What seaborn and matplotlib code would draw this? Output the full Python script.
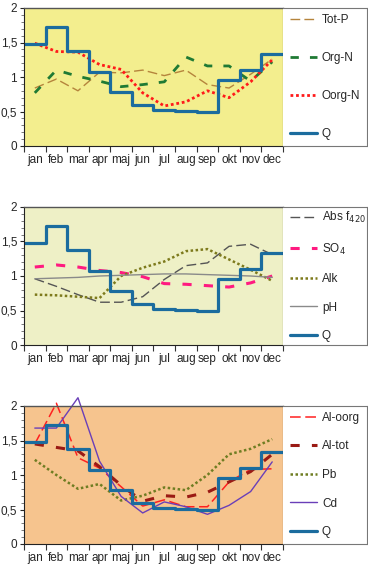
import numpy as np
import pandas as pd
import matplotlib
matplotlib.use('Agg')
import matplotlib.pyplot as plt
from matplotlib.lines import Line2D
from matplotlib.ticker import MultipleLocator, FixedLocator, FuncFormatter
import seaborn as sns

# months and discharge (step line, same in every panel)
months = ['jan', 'feb', 'mar', 'apr', 'maj', 'jun', 'jul', 'aug', 'sep', 'okt', 'nov', 'dec']
q_vals = [1.48, 1.73, 1.38, 1.07, 0.78, 0.59, 0.52, 0.51, 0.49, 0.95, 1.10, 1.34]

# panel 1
tot_p = [0.84, 0.97, 0.80, 1.07, 1.06, 1.10, 1.02, 1.10, 0.89, 0.84, 1.04, 1.26]
org_n = [0.77, 1.10, 1.01, 0.94, 0.86, 0.89, 0.93, 1.29, 1.16, 1.16, 0.94, 1.22]
oorg_n = [1.49, 1.37, 1.36, 1.18, 1.11, 0.77, 0.58, 0.64, 0.80, 0.70, 0.93, 1.25]

# panel 2
abs_f420 = [0.96, 0.85, 0.73, 0.62, 0.62, 0.70, 0.95, 1.15, 1.19, 1.43, 1.46, 1.31]
so4 = [1.13, 1.16, 1.13, 1.08, 1.05, 0.99, 0.89, 0.88, 0.86, 0.84, 0.90, 1.00]
alk = [0.73, 0.72, 0.70, 0.68, 1.00, 1.12, 1.21, 1.36, 1.39, 1.24, 1.09, 0.93]
ph = [0.96, 0.97, 0.98, 1.00, 1.01, 1.02, 1.03, 1.03, 1.02, 1.01, 1.00, 0.98]

# panel 3
al_oorg = [1.45, 2.04, 1.25, 1.10, 0.83, 0.55, 0.64, 0.54, 0.54, 0.90, 1.08, 1.09]
al_tot = [1.45, 1.40, 1.35, 1.12, 0.85, 0.62, 0.70, 0.68, 0.75, 0.90, 1.05, 1.30]
pb = [1.22, 1.00, 0.80, 0.87, 0.63, 0.70, 0.82, 0.78, 1.00, 1.30, 1.38, 1.52]
cd = [1.68, 1.68, 2.12, 1.20, 0.69, 0.45, 0.61, 0.54, 0.43, 0.56, 0.76, 1.19]

sns.set_style('ticks')
plt.rcParams['font.family'] = ['Liberation Sans', 'DejaVu Sans']

W, H = 368, 565
fig = plt.figure(figsize=(W / 100, H / 100), dpi=100)

centers = np.arange(12) + 0.5
edges = np.arange(13)

panels = [
    # (top px, background, series list)
    (8, '#f3ee8e', [
        ('Tot-P', tot_p, '#b5843c', (0, (7, 3)), 1.0),
        ('Org-N', org_n, '#1f7a34', (0, (3, 4)), 2.0),
        ('Oorg-N', oorg_n, '#ff1a1a', (0, (1, 1)), 2.0),
    ]),
    (207, '#eef0c6', [
        ('Abs f$_{420}$', abs_f420, '#555555', (0, (7, 3)), 1.0),
        ('SO$_4$', so4, '#ff1a80', (0, (3, 4)), 2.2),
        ('Alk', alk, '#7d7a1c', (0, (1, 1)), 1.8),
        ('pH', ph, '#8a8a8a', '-', 1.0),
    ]),
    (406, '#f6c48e', [
        ('Al-oorg', al_oorg, '#ff2020', (0, (7, 3)), 1.1),
        ('Al-tot', al_tot, '#9a1a14', (0, (3, 4)), 2.2),
        ('Pb', pb, '#6f7d22', (0, (1, 1)), 1.8),
        ('Cd', cd, '#6a3fb8', '-', 1.0),
    ]),
]

q_color = '#1b6c9e'
h_px = 138
for top, bg, series in panels:
    bottom = 1 - (top + h_px) / H
    ax = fig.add_axes([24 / W, bottom, (283 - 24) / W, h_px / H])
    ax.set_facecolor(bg)

    handles = []
    for name, vals, col, ls, lw in series:
        sns.lineplot(x=centers, y=vals, ax=ax, color=col, linestyle=ls,
                     lw=lw, clip_on=False)
        handles.append(Line2D([], [], color=col, linestyle=ls, lw=lw))

    sns.lineplot(x=edges, y=q_vals + [q_vals[-1]], ax=ax, color=q_color,
                 lw=2.3, drawstyle='steps-post')
    handles.append(Line2D([], [], color=q_color, lw=2.3))
    labels = [s[0] for s in series] + ['Q']

    ax.set_xlim(0, 12)
    ax.set_ylim(0, 2)
    ax.set_xlabel('')
    ax.set_ylabel('')
    ax.xaxis.set_major_locator(FixedLocator(edges))
    ax.xaxis.set_minor_locator(FixedLocator(centers))
    ax.set_xticklabels([], minor=False)
    ax.set_xticklabels(months, minor=True)
    ax.tick_params(axis='x', which='major', length=4, width=0.8, color='#333333')
    ax.tick_params(axis='x', which='minor', length=0, labelsize=8.5, pad=6)
    ax.yaxis.set_major_locator(MultipleLocator(0.5))
    ax.yaxis.set_minor_locator(MultipleLocator(0.1))
    ax.yaxis.set_major_formatter(FuncFormatter(lambda v, p: ('%g' % v).replace('.', ',')))
    ax.tick_params(axis='y', which='major', length=3, width=0.8, labelsize=8.5, pad=2)
    ax.tick_params(axis='y', which='minor', length=2, width=0.6, color='#666666')
    for s in ['left', 'bottom']:
        ax.spines[s].set_color('#222222')
        ax.spines[s].set_linewidth(0.8)
    ax.spines['right'].set_visible(True)
    ax.spines['right'].set_color('#222222')
    ax.spines['right'].set_linewidth(0.8)
    ax.spines['top'].set_visible(True)
    ax.spines['top'].set_color('#555555')
    ax.spines['top'].set_linestyle((0, (1, 1)))
    ax.spines['top'].set_linewidth(1.0)

    # legend box to the right
    lax = fig.add_axes([283 / W, bottom, (367 - 283) / W, h_px / H])
    lax.set_xticks([])
    lax.set_yticks([])
    lax.set_facecolor('white')
    for s in ['top', 'right', 'bottom']:
        lax.spines[s].set_visible(True)
        lax.spines[s].set_color('#777777')
        lax.spines[s].set_linestyle((0, (1, 1)))
        lax.spines[s].set_linewidth(0.8)
    lax.spines['left'].set_visible(False)
    spacing = 2.2 if len(handles) == 4 else 1.4
    lax.legend(handles, labels, loc='center left', bbox_to_anchor=(0.0, 0.5),
               frameon=False, fontsize=8.5, handlelength=2.3, handletextpad=0.4,
               labelspacing=spacing, borderaxespad=0.2)

fig.savefig('out.png', dpi=100)
